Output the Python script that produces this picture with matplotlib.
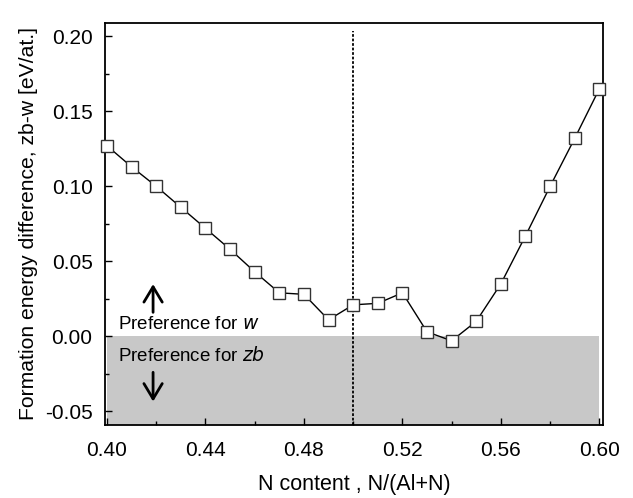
import matplotlib
matplotlib.use('Agg')
import matplotlib.pyplot as plt
from matplotlib.ticker import MultipleLocator, FormatStrFormatter

plt.rcParams['font.family'] = ['Liberation Sans', 'DejaVu Sans']

# N content and formation energy difference (zb - w)
n_content = [0.40, 0.41, 0.42, 0.43, 0.44, 0.45, 0.46, 0.47, 0.48, 0.49, 0.50,
             0.51, 0.52, 0.53, 0.54, 0.55, 0.56, 0.57, 0.58, 0.59, 0.60]
energy_diff = [0.127, 0.113, 0.100, 0.086, 0.072, 0.058, 0.043, 0.029, 0.028, 0.011, 0.021,
               0.022, 0.029, 0.003, -0.003, 0.010, 0.035, 0.067, 0.100, 0.132, 0.165]

fig = plt.figure(figsize=(6.33, 4.98), dpi=100)
ax = fig.add_axes([0.166, 0.147, 0.787, 0.807])

# shaded region where zb is preferred
ax.fill_between([0.40, 0.60], -0.059, 0, color='#c8c8c8', lw=0, zorder=0)

ax.axvline(0.50, color='black', linestyle=(0, (1.5, 1)), lw=1.3, ymax=0.98, zorder=1)

ax.plot(n_content, energy_diff, color='black', lw=1, marker='s', markersize=9,
        markerfacecolor='white', markeredgecolor='#333333', markeredgewidth=1, zorder=3,
        clip_on=False)

ax.text(0.4045, 0.0047, 'Preference for $\\it{w}$', fontsize=13.5)
ax.text(0.4045, -0.0167, 'Preference for $\\it{zb}$', fontsize=13.5)
arrow = dict(arrowstyle='->,head_length=0.5,head_width=0.3', lw=2, color='black',
             mutation_scale=22, shrinkA=0, shrinkB=0)
ax.annotate('', xy=(0.4187, 0.0348), xytext=(0.4187, 0.016), arrowprops=arrow)
ax.annotate('', xy=(0.4187, -0.0435), xytext=(0.4187, -0.024), arrowprops=arrow)

ax.set_xlim(0.3992, 0.6016)
ax.set_ylim(-0.059, 0.209)
ax.xaxis.set_major_locator(MultipleLocator(0.04))
ax.xaxis.set_minor_locator(MultipleLocator(0.02))
ax.yaxis.set_major_locator(MultipleLocator(0.05))
ax.yaxis.set_minor_locator(MultipleLocator(0.025))
ax.xaxis.set_major_formatter(FormatStrFormatter('%.2f'))
ax.yaxis.set_major_formatter(FormatStrFormatter('%.2f'))
ax.tick_params(which='both', direction='in', labelsize=15, width=1)
ax.tick_params(which='major', length=5)
ax.tick_params(which='minor', length=3)
ax.tick_params(axis='y', pad=9)
ax.tick_params(axis='x', pad=11.5)
for s in ax.spines.values():
    s.set_linewidth(1.3)

ax.set_xlabel('N content , N/(Al+N)', fontsize=15.5, labelpad=10)
ax.set_ylabel('Formation energy difference, zb-w [eV/at.]', fontsize=15.2, labelpad=5)

plt.savefig('out.png', dpi=100)
plt.close()
